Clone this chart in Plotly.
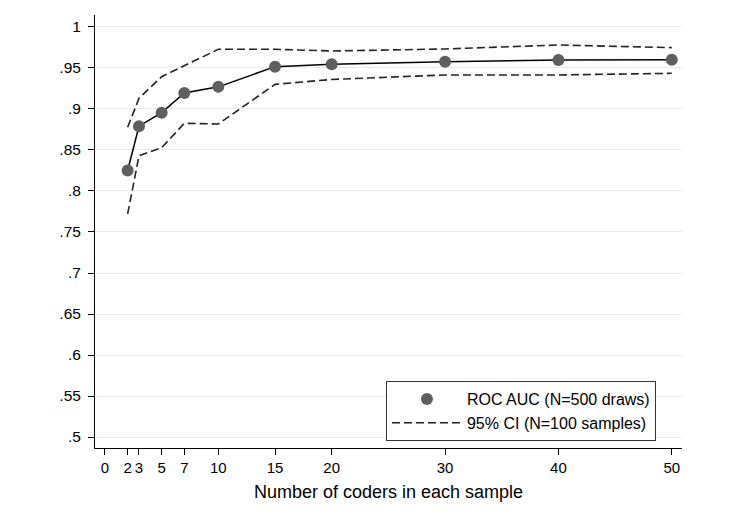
import plotly.graph_objects as go

coders = [2, 3, 5, 7, 10, 15, 20, 30, 40, 50]
roc_auc = [0.825, 0.879, 0.8955, 0.9195, 0.927, 0.9516, 0.9545, 0.9577, 0.9598, 0.960]
ci_upper = [0.8777, 0.913, 0.9394, 0.9524, 0.9728, 0.9728, 0.9707, 0.9732, 0.978, 0.9748]
ci_lower = [0.772, 0.843, 0.8528, 0.8825, 0.8817, 0.930, 0.936, 0.9415, 0.9415, 0.9435]

x_ticks = [0, 2, 3, 5, 7, 10, 15, 20, 30, 40, 50]
y_ticks = [0.5, 0.55, 0.6, 0.65, 0.7, 0.75, 0.8, 0.85, 0.9, 0.95, 1.0]
y_labels = [".5", ".55", ".6", ".65", ".7", ".75", ".8", ".85", ".9", ".95", "1"]

font = "Liberation Sans, Arial, sans-serif"

fig = go.Figure()
fig.add_trace(go.Scatter(x=coders, y=roc_auc, mode="lines",
                         line=dict(color="black", width=1.5), showlegend=False, hoverinfo="skip"))
fig.add_trace(go.Scatter(x=coders, y=roc_auc, mode="markers", name="ROC AUC (N=500 draws)",
                         marker=dict(color="#5f5f5f", size=12)))
fig.add_trace(go.Scatter(x=coders, y=ci_upper, mode="lines", name="95% CI (N=100 samples)",
                         line=dict(color="#222222", width=1.6, dash="8px,4px")))
fig.add_trace(go.Scatter(x=coders, y=ci_lower, mode="lines", showlegend=False,
                         line=dict(color="#222222", width=1.6, dash="8px,4px")))

fig.update_layout(
    width=733, height=524,
    margin=dict(l=87, r=59, t=7, b=84),
    paper_bgcolor="white", plot_bgcolor="white",
    font=dict(family=font, size=15, color="black"),
    xaxis=dict(range=[-0.88, 50.9], tickvals=x_ticks, ticktext=[str(v) for v in x_ticks],
               showgrid=False, zeroline=False, showline=True, linecolor="black", linewidth=1,
               ticks="outside", ticklen=6, tickcolor="black", tickfont=dict(size=15),
               title=dict(text="Number of coders in each sample", font=dict(size=18), standoff=10)),
    yaxis=dict(range=[0.4866, 1.0146], tickvals=y_ticks, ticktext=y_labels,
               showgrid=True, gridcolor="#e8e8e8", gridwidth=1, zeroline=False,
               showline=True, linecolor="black", linewidth=1, tickfont=dict(size=15.5),
               ticks="outside", ticklen=6, tickcolor="black", ticklabelstandoff=4),
    legend=dict(x=0.4957, y=0.1547, xanchor="left", yanchor="top",
                bordercolor="#333333", borderwidth=1, bgcolor="white",
                itemwidth=70, font=dict(size=16), tracegroupgap=2),
    showlegend=True,
)

fig.write_html("out.html")
